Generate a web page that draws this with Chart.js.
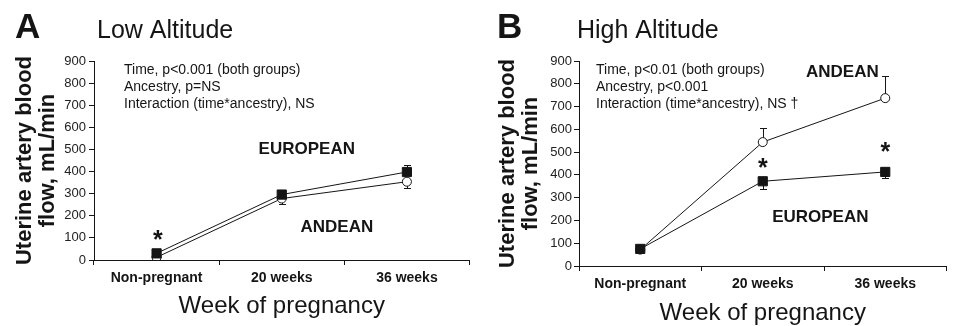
<!DOCTYPE html>
<html><head><meta charset="utf-8">
<script src="https://cdn.jsdelivr.net/npm/chart.js@4.4.1/dist/chart.umd.min.js"></script>
<style>
html,body{margin:0;padding:0;background:#fff;}
#wrap{position:relative;width:954px;height:326px;overflow:hidden;background:#fff;}
.panel{position:absolute;top:0;height:326px;width:477px;}
canvas{display:block;}
</style></head><body>
<div id="wrap">
<div class="panel" style="left:0"><canvas id="cA" width="477" height="326"></canvas></div>
<div class="panel" style="left:477px"><canvas id="cB" width="477" height="326"></canvas></div>
</div>
<script>
// ---- data ----
const categories = ['Non-pregnant', '20 weeks', '36 weeks'];
const yTickMin = 0, yTickMax = 900, yTickStep = 100;
const lowEuropean   = [30, 296, 398];
const lowEuropeanSE = [null, null, 32];
const lowAndean     = [12, 278, 354];
const lowAndeanSE   = [null, 25, 27];
const highEuropean   = [75, 372, 413];
const highEuropeanSE = [null, 35, 28];
const highAndean     = [72, 544, 737];
const highAndeanSE   = [null, 62, 95];
const statsLow  = ['Time, p<0.001 (both groups)', 'Ancestry, p=NS', 'Interaction (time*ancestry), NS'];
const statsHigh = ['Time, p<0.01 (both groups)', 'Ancestry, p<0.001', 'Interaction (time*ancestry), NS \u2020'];

const FF = '"Liberation Sans", Arial, Helvetica, sans-serif';
const INK = '#151515';

const annotPlugin = {
  id: 'annot',
  beforeDatasetsDraw(chart, args, o) {
    const ctx = chart.ctx, xs = chart.scales.x, ys = chart.scales.y;
    ctx.save();
    ctx.strokeStyle = INK; ctx.lineWidth = 1;
    chart.data.datasets.forEach(ds => {
      if (!ds.se) return;
      ds.data.forEach((v, i) => {
        const se = ds.se[i];
        if (se == null) return;
        const px = Math.round(xs.getPixelForValue(i)) + 0.5;
        const y0 = ys.getPixelForValue(v);
        const y1 = Math.round(ys.getPixelForValue(v + ds.seDir * se)) + 0.5;
        ctx.beginPath();
        ctx.moveTo(px, y0); ctx.lineTo(px, y1);
        ctx.moveTo(px - 3.5, y1); ctx.lineTo(px + 3.5, y1);
        ctx.stroke();
      });
    });
    ctx.restore();
  },
  afterDraw(chart, args, o) {
    const ctx = chart.ctx, xs = chart.scales.x, ys = chart.scales.y, ca = chart.chartArea;
    ctx.save();
    ctx.fillStyle = INK;
    ctx.textBaseline = 'alphabetic';
    ctx.textAlign = 'left';
    ctx.font = 'bold 35px ' + FF;
    ctx.fillText(o.letter, o.letterX, 38);
    ctx.font = '25px ' + FF;
    ctx.fillText(o.title, o.titleX, 38);
    ctx.font = '14px ' + FF;
    ctx.textBaseline = 'middle';
    o.stats.forEach((s, i) => ctx.fillText(s, ca.left + o.statsDX, ca.top + 9 + i * 17));
    ctx.textAlign = 'center';
    ctx.font = 'bold 17px ' + FF;
    o.labels.forEach(l => ctx.fillText(l.text, xs.getPixelForValue(l.x), ys.getPixelForValue(l.y)));
    ctx.font = 'bold 25px ' + FF;
    o.stars.forEach(s => ctx.fillText('*', xs.getPixelForValue(s.x), ys.getPixelForValue(s.y) + 6));
    ctx.restore();
  }
};

function makeChart(id, eur, eurSE, eurDir, and, andSE, andDir, cfg) {
  const common = {
    borderColor: INK, borderWidth: 1, pointBorderColor: INK, pointBorderWidth: 1,
    pointHoverRadius: 0, tension: 0, fill: false
  };
  return new Chart(document.getElementById(id), {
    type: 'line',
    data: {
      labels: categories,
      datasets: [
        Object.assign({ label: 'European', data: eur, se: eurSE, seDir: eurDir,
          pointStyle: 'rect', pointRadius: 6.5, pointBackgroundColor: INK }, common),
        Object.assign({ label: 'Andean', data: and, se: andSE, seDir: andDir,
          pointStyle: 'circle', pointRadius: 4.5, pointBackgroundColor: '#fff' }, common)
      ]
    },
    options: {
      responsive: false, animation: false,
      layout: { padding: { top: 61, right: cfg.padRight, left: 0, bottom: 0 } },
      plugins: { legend: { display: false }, tooltip: { enabled: false }, annot: cfg.annot },
      scales: {
        x: {
          type: 'category', offset: true,
          grid: { offset: true, drawOnChartArea: false, tickLength: 5, color: INK, lineWidth: 1 },
          border: { color: INK, width: 1 },
          ticks: { font: { family: FF, size: 14, weight: 'bold' }, color: INK, padding: 5, maxRotation: 0 },
          title: { display: true, text: 'Week of pregnancy', color: INK,
            font: { family: FF, size: 24 }, padding: { top: 0, bottom: cfg.xTitlePad } },
          afterFit: s => { s.height = cfg.xHeight; }
        },
        y: {
          min: yTickMin, max: yTickMax,
          grid: { drawOnChartArea: false, tickLength: 5, color: INK, lineWidth: 1 },
          border: { color: INK, width: 1 },
          ticks: { stepSize: yTickStep, font: { family: FF, size: 13 }, color: '#222', padding: cfg.yTickPad },
          title: { display: true, text: ['Uterine artery blood', 'flow, mL/min'], color: INK,
            font: { family: FF, size: 22, weight: 'bold', lineHeight: 1.05 }, padding: { top: cfg.yTitlePad, bottom: 0 } },
          afterFit: s => { s.width = cfg.yWidth; }
        }
      }
    },
    plugins: [annotPlugin]
  });
}

makeChart('cA', lowEuropean, lowEuropeanSE, 1, lowAndean, lowAndeanSE, -1, {
  padRight: 2, xHeight: 66, xTitlePad: 5, yWidth: 94, yTickPad: 3, yTitlePad: 13,
  annot: {
    letter: 'A', letterX: 15, title: 'Low Altitude', titleX: 97, stats: statsLow, statsDX: 30,
    labels: [{ text: 'EUROPEAN', x: 1.2, y: 502 }, { text: 'ANDEAN', x: 1.44, y: 149 }],
    stars: [{ x: 0.01, y: 113 }]
  }
});
makeChart('cB', highEuropean, highEuropeanSE, -1, highAndean, highAndeanSE, 1, {
  padRight: 1, xHeight: 60, xTitlePad: -2, yWidth: 102, yTickPad: 2, yTitlePad: 19,
  annot: {
    letter: 'B', letterX: 20, title: 'High Altitude', titleX: 100, stats: statsHigh, statsDX: 17,
    labels: [{ text: 'ANDEAN', x: 1.65, y: 852 }, { text: 'EUROPEAN', x: 1.47, y: 215 }],
    stars: [{ x: 1.0, y: 452 }, { x: 2.0, y: 522 }]
  }
});
</script>
</body></html>
